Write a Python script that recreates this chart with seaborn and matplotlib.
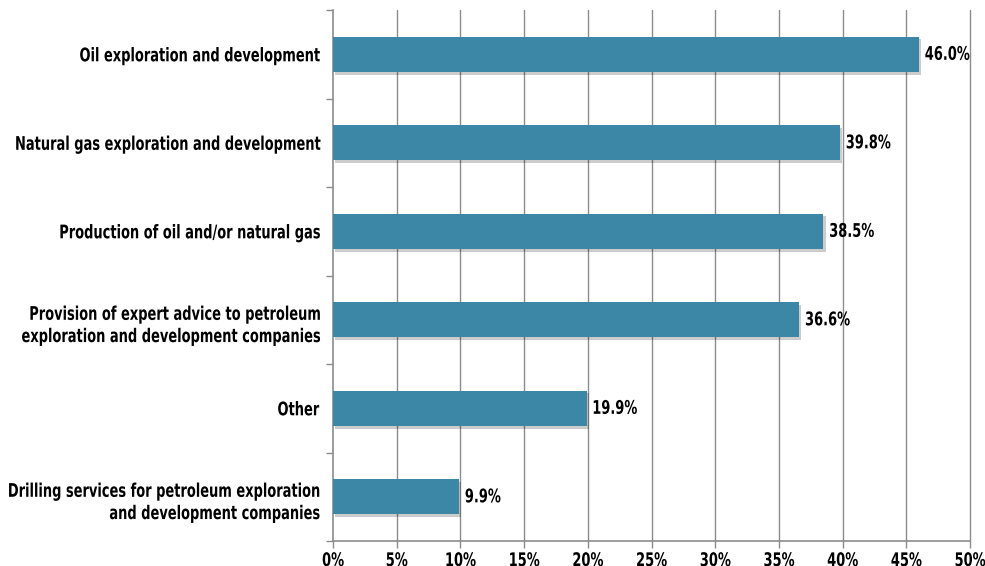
import matplotlib
matplotlib.use("Agg")
import matplotlib.pyplot as plt
import matplotlib.patheffects as pe
from matplotlib.transforms import Affine2D
import seaborn as sns
import pandas as pd
import numpy as np

categories = [
    "Oil exploration and development",
    "Natural gas exploration and development",
    "Production of oil and/or natural gas",
    "Provision of expert advice to petroleum\nexploration and development companies",
    "Other",
    "Drilling services for petroleum exploration\nand development companies",
]
values = [46.0, 39.8, 38.5, 36.6, 19.9, 9.9]
xticks = [0, 5, 10, 15, 20, 25, 30, 35, 40, 45, 50]

df = pd.DataFrame({"category": categories, "value": values})


class TallText(pe.AbstractPathEffect):
    """Stretch glyphs vertically to imitate a tall condensed typeface."""
    def __init__(self, sy=1.25):
        super().__init__()
        self.sy = sy

    def draw_path(self, renderer, gc, tpath, affine, rgbFace=None):
        t = Affine2D().scale(1, self.sy).translate(0, -(self.sy - 1) * 36) + affine
        renderer.draw_path(gc, tpath, t, rgbFace)


sns.set_theme(style="white")
plt.rcParams["font.family"] = ["DejaVu Sans"]
plt.rcParams["font.stretch"] = "condensed"
plt.rcParams["font.weight"] = "bold"
FS = 10.4
TALL = [TallText(1.3)]

fig = plt.figure(figsize=(9.85, 5.66), dpi=100)
ax = fig.add_axes([333/985, 1-541/566, (970-333)/985, (541-10)/566])

sns.barplot(data=df, x="value", y="category", color="#3C87A5", width=0.4,
            saturation=1, ax=ax, zorder=3, edgecolor="none")
for p in ax.patches:
    p.set_path_effects([pe.SimplePatchShadow(offset=(1.5, -2), alpha=0.2, shadow_rgbFace="black"), pe.Normal()])

ax.set_xlim(0, 50)
ax.set_ylim(5.5, -0.5)
ax.set_xticks(xticks)
ax.set_xticklabels([f"{t}%" for t in xticks])
ax.set_xlabel("")
ax.set_ylabel("")

for x in xticks[1:]:
    ax.axvline(x, color="#8c8c8c", lw=1.0, zorder=1, clip_on=False)

ax.set_yticks(np.arange(len(categories)))
ax.set_yticklabels(categories, ha="right", multialignment="right", linespacing=1.75)
ax.set_yticks(np.arange(-0.5, len(categories), 1), minor=True)
ax.tick_params(axis="y", which="major", length=0, pad=10, labelsize=FS)
ax.tick_params(axis="y", which="minor", length=5, width=1, color="#8c8c8c", direction="out", left=True)
ax.tick_params(axis="x", which="major", length=5, width=1, color="#8c8c8c", direction="out",
               bottom=True, labelsize=FS, pad=4)

for lab in ax.get_yticklabels() + ax.get_xticklabels():
    lab.set_fontweight("bold")
    lab.set_fontstretch("condensed")
    lab.set_color("black")
    lab.set_path_effects(TALL)

for s in ["top", "right"]:
    ax.spines[s].set_visible(False)
for s in ["left", "bottom"]:
    ax.spines[s].set_color("#8c8c8c")
    ax.spines[s].set_linewidth(1.2)

for i, v in enumerate(values):
    ax.text(v + 0.45, i, f"{v:.1f}%", va="center", ha="left", fontsize=FS,
            fontweight="bold", fontstretch="condensed", color="black", zorder=4,
            path_effects=TALL)

fig.savefig("out.png", dpi=100, facecolor="white")
